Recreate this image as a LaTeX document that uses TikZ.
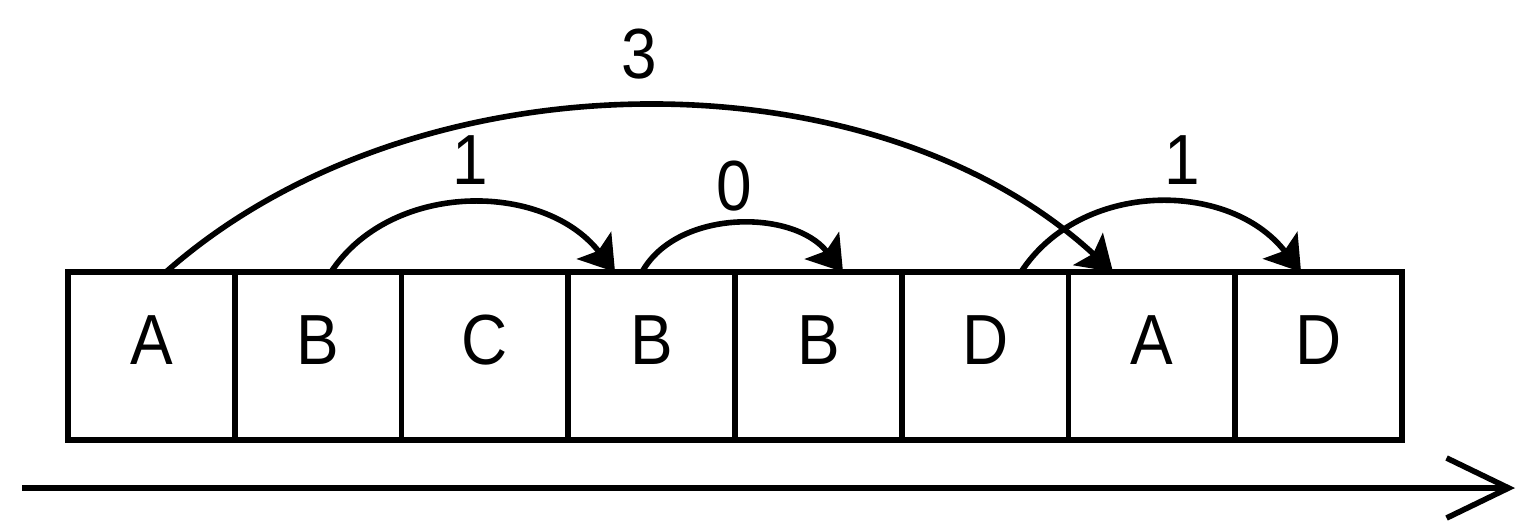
\documentclass[tikz,border=0pt]{standalone}
\usepackage{fontspec}
\setmainfont[FakeStretch=0.9]{Liberation Sans}
\usetikzlibrary{arrows.meta,calc}
\begin{document}
\begin{tikzpicture}[x=0.5pt,y=-0.5pt,
  cell/.style={draw,line width=2.8pt,minimum width=83.375pt,minimum height=84pt,inner sep=0pt,outer sep=0pt},
  txt/.style={anchor=base,inner sep=0pt,font=\fontsize{35.5pt}{40pt}\selectfont},
  link/.style={line width=2.8pt,-{Stealth[length=17pt,width=22pt,inset=3.5pt,line width=1.5pt]}},
  axis/.style={line width=2.8pt,-{Straight Barb[length=31pt,width=30pt]}}
]
\useasboundingbox (0,0) rectangle (1518,531);
\foreach \i/\l in {1/A,2/B,3/C,4/B,5/B,6/D,7/A,8/D}{
  \node[cell] (b\i) at ({68+166.75*(\i-0.5)},356) {};
  \node[txt] (l\i) at ({68+166.75*(\i-0.5)},364.5) {\l};
}
% arc end points
\coordinate (s3) at ($(b1.north)+(14.6,0)$);
\coordinate (e3) at ($(b7.north)+(-38.9,0)$);
\coordinate (s1) at ($(b2.north)+(12.9,0)$);
\coordinate (e1) at ($(b4.north)+(-36.6,0)$);
\coordinate (s0) at ($(b4.north)+(-9.6,0)$);
\coordinate (e0) at ($(b5.north)+(24.6,0)$);
\coordinate (s1r) at ($(b6.north)+(35.9,0)$);
\coordinate (e1r) at ($(b8.north)+(-17.6,0)$);
\draw[link] (s3) .. controls +(250,-221) and +(-240,-221) .. (e3);
\draw[link] (s1) .. controls +(60,-91) and +(-72,-91) .. (e1);
\draw[link] (s0) .. controls +(35,-63) and +(-50,-63) .. (e0);
\draw[link] (s1r) .. controls +(60,-92) and +(-72,-92) .. (e1r);
% labels
\node[txt] (n3) at (639,78) {3};
\node[txt] (n1a) at (470,184) {1};
\node[txt] (n0) at (734,210) {0};
\node[txt] (n1b) at (1182,184) {1};
% time axis
\coordinate (t0) at (22,488);
\coordinate (t1) at (1515,488);
\draw[axis] (t0) -- (t1);
\end{tikzpicture}
\end{document}
